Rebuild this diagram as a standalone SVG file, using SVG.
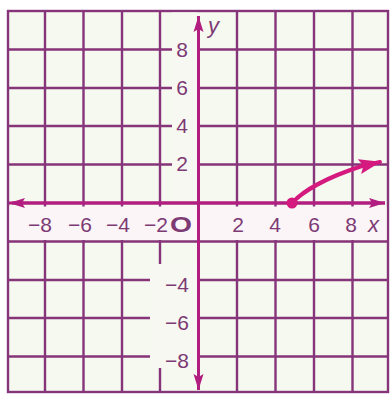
<svg xmlns="http://www.w3.org/2000/svg" width="392" height="395" viewBox="0 0 392 395">
<defs>
<style>
.grid{stroke:#86357a;stroke-width:2.4;fill:none}
.axis{stroke:#b21e80;stroke-width:3;fill:none}
.lbl{font-family:"Liberation Sans",Arial,sans-serif;font-size:21px;fill:#7d3a74}
.it{font-style:italic}
.band{fill:#fbf5f7}
.mask{fill:#f7f8f1}
</style>
<marker id="ah" markerUnits="userSpaceOnUse" markerWidth="18" markerHeight="12" refX="16" refY="6" orient="auto">
<path d="M0,1 L16,6 L0,11 L3,6 Z" fill="#b21e80"/>
</marker>
<marker id="ch" markerUnits="userSpaceOnUse" markerWidth="24" markerHeight="18" refX="21" refY="9" orient="auto">
<path d="M0,1.5 L22,9 L0,16.5 L4,9 Z" fill="#d4197f"/>
</marker>
</defs>
<rect x="0" y="0" width="392" height="395" fill="#ffffff"/>
<rect x="8" y="11" width="380" height="381" fill="#f5f9ef"/>
<g id="grid">
<path class="grid" d="M45,11V392 M83.5,11V392 M122,11V392 M160,11V392 M237,11V392 M275.5,11V392 M314,11V392 M352.5,11V392 M8,49.5H388 M8,88H388 M8,126H388 M8,164.5H388 M8,241.5H388 M8,280H388 M8,318H388 M8,356.5H388"/>
<rect class="grid" x="8" y="11" width="380" height="381"/>
</g>
<g id="masks">
<rect class="band" x="9.5" y="206.5" width="377" height="33.5"/>
<rect class="mask" x="172" y="12.5" width="25" height="188"/>
<rect class="mask" x="150" y="264" width="47" height="104"/>
</g>
<g id="axes">
<path class="axis" d="M198.5,390V16" marker-end="url(#ah)"/>
<path class="axis" d="M198.5,16V390" marker-end="url(#ah)"/>
<path class="axis" d="M12,203H385" marker-end="url(#ah)"/>
<path class="axis" d="M385,203H9" marker-end="url(#ah)"/>
</g>
<g id="curve">
<path d="M292,203 C302,192 325,178 362,166 L380,162" fill="none" stroke="#d4197f" stroke-width="4" stroke-linecap="round" marker-end="url(#ch)"/>
<circle cx="292" cy="203" r="5.5" fill="#d4197f"/>
</g>
<g id="xlabels" class="lbl">
<text x="52" y="232" text-anchor="end">−8</text>
<text x="92" y="232" text-anchor="end">−6</text>
<text x="130" y="232" text-anchor="end">−4</text>
<text x="168" y="232" text-anchor="end">−2</text>
<text x="170" y="232" font-weight="bold" font-size="22" textLength="22" lengthAdjust="spacingAndGlyphs">O</text>
<text x="238" y="232" text-anchor="middle">2</text>
<text x="275" y="232" text-anchor="middle">4</text>
<text x="314" y="232" text-anchor="middle">6</text>
<text x="351" y="232" text-anchor="middle">8</text>
<text x="368" y="232" class="it" font-size="22">x</text>
</g>
<g id="ylabels" class="lbl">
<text x="182" y="57" text-anchor="middle">8</text>
<text x="182" y="95" text-anchor="middle">6</text>
<text x="182" y="133" text-anchor="middle">4</text>
<text x="182" y="171" text-anchor="middle">2</text>
<text x="189" y="292" text-anchor="end">−4</text>
<text x="189" y="330" text-anchor="end">−6</text>
<text x="189" y="368" text-anchor="end">−8</text>
<text x="208" y="33" class="it" font-size="22">y</text>
</g>
</svg>
